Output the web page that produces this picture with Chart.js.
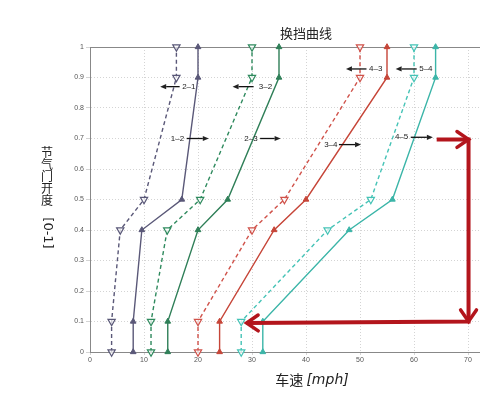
<!DOCTYPE html>
<html>
<head>
<meta charset="utf-8">
<script src="https://cdn.jsdelivr.net/npm/chart.js@4"></script>
<style>
html, body { margin: 0; padding: 0; background: #fff; overflow: hidden; }
canvas { display: block; }
</style>
</head>
<body>
<canvas id="myChart" width="540" height="397"></canvas>
<script>
// throttle opening levels (y) shared by every shift line
const throttle = [0, 0.1, 0.4, 0.5, 0.9, 1];

// vehicle speed [mph] at each throttle level
const up12   = [8, 8, 9.6, 17, 20, 20];
const down21 = [4, 4, 5.6, 10, 16, 16];
const up23   = [14.4, 14.4, 20, 25.5, 35, 35];
const down32 = [11.3, 11.3, 14.3, 20.4, 30, 30];
const up34   = [24, 24, 34.1, 40, 55, 55];
const down43 = [20, 20, 30, 36, 50, 50];
const up45   = [32, 32, 48, 56, 64, 64];
const down54 = [28, 28, 44, 52, 60, 60];

// small shift labels with arrows
const shiftLabels = ["1\u20132", "2\u20131", "2\u20133", "3\u20132", "3\u20134", "4\u20133", "4\u20135", "5\u20134"];
const labelX    = [16.2, 18.3, 29.8, 32.5, 44.6, 52.9, 57.7, 62.2];
const labelY    = [0.70, 0.87, 0.70, 0.87, 0.68, 0.928, 0.704, 0.928];
const arrowFrom = [17.9, 16.6, 31.5, 30.3, 46.1, 51.2, 59.4, 60.5];
const arrowTo   = [22, 13, 35.3, 26.4, 50.2, 47.4, 63.5, 56.6];

// big red arrow path
const redX = [64.2, 70.1, 70.1, 29];
const redY = [0.697, 0.697, 0.1, 0.095];

const xTicksMax = 80;

function mk(label, xs, color, down) {
  return {
    label: label,
    data: xs.map((v, i) => ({ x: v, y: throttle[i] })),
    borderColor: color,
    backgroundColor: down ? "rgba(255,255,255,0.7)" : color,
    borderWidth: 1.4,
    borderDash: down ? [4, 3] : [],
    pointStyle: "triangle",
    rotation: down ? 180 : 0,
    pointRadius: down ? 4.2 : 3.3,
    pointBorderWidth: down ? 1.2 : 1,
    pointBorderColor: color,
    pointBackgroundColor: down ? "rgba(255,255,255,0.7)" : color,
    tension: 0,
    clip: false,
  };
}

function arrowLine(ctx, x0, y0, x1, y1, len, wid) {
  const ang = Math.atan2(y1 - y0, x1 - x0);
  const bx = x1 - len * Math.cos(ang), by = y1 - len * Math.sin(ang);
  ctx.beginPath();
  ctx.moveTo(x0, y0);
  ctx.lineTo(bx, by);
  ctx.stroke();
  ctx.beginPath();
  ctx.moveTo(x1, y1);
  ctx.lineTo(bx + wid * Math.sin(ang), by - wid * Math.cos(ang));
  ctx.lineTo(bx - wid * Math.sin(ang), by + wid * Math.cos(ang));
  ctx.closePath();
  ctx.fill();
}

const overlay = {
  id: "overlay",
  beforeDatasetsDraw(chart) {
    const { ctx, chartArea: a, scales: { y } } = chart;
    // top box line
    ctx.save();
    ctx.strokeStyle = "#888";
    ctx.lineWidth = 1;
    ctx.beginPath();
    ctx.moveTo(a.left, Math.round(y.getPixelForValue(1)) + 0.5);
    ctx.lineTo(a.right, Math.round(y.getPixelForValue(1)) + 0.5);
    ctx.stroke();
    ctx.restore();
  },
  afterDatasetsDraw(chart) {
    const { ctx, scales: { x, y } } = chart;
    ctx.save();
    // shift labels
    ctx.font = '8px "Liberation Sans"';
    ctx.textAlign = "center";
    ctx.textBaseline = "middle";
    ctx.fillStyle = "#222";
    ctx.strokeStyle = "#111";
    ctx.lineWidth = 1.3;
    shiftLabels.forEach((t, i) => {
      const py = y.getPixelForValue(labelY[i]);
      ctx.fillText(t, x.getPixelForValue(labelX[i]), py);
      arrowLine(ctx, x.getPixelForValue(arrowFrom[i]), py, x.getPixelForValue(arrowTo[i]), py, 6, 2.6);
    });

    // red arrows
    ctx.strokeStyle = "#b3151c";
    ctx.lineWidth = 4;
    ctx.lineCap = "butt";
    ctx.lineJoin = "miter";
    const px = redX.map(v => x.getPixelForValue(v));
    const py = redY.map(v => y.getPixelForValue(v));
    ctx.beginPath();
    ctx.moveTo(px[0], py[0]);
    for (let i = 1; i < px.length; i++) ctx.lineTo(px[i], py[i]);
    ctx.stroke();
    ctx.lineWidth = 3.5;
    ctx.lineCap = "round";
    for (let i = 1; i < px.length; i++) {
      const ang = Math.atan2(py[i] - py[i - 1], px[i] - px[i - 1]);
      const L = 14, s = 0.6;
      ctx.beginPath();
      ctx.moveTo(px[i] - L * Math.cos(ang - s), py[i] - L * Math.sin(ang - s));
      ctx.lineTo(px[i], py[i]);
      ctx.lineTo(px[i] - L * Math.cos(ang + s), py[i] - L * Math.sin(ang + s));
      ctx.stroke();
    }
    ctx.restore();
  },
  afterDraw(chart) {
    const { ctx, chartArea: a } = chart;
    ctx.save();
    ctx.fillStyle = "#222";
    ctx.textAlign = "center";
    ctx.textBaseline = "middle";
    // title
    ctx.font = '13px "Noto Sans CJK SC"';
    ctx.fillText("换挡曲线", (a.left + a.right) / 2, 33);

    // x title
    const f1 = '14px "Noto Sans CJK SC"', f2 = 'italic 14px "DejaVu Sans"';
    ctx.font = f1;
    const w1 = ctx.measureText("车速 ").width;
    ctx.font = f2;
    const w2 = ctx.measureText("[mph]").width;
    let sx = 312 - (w1 + w2) / 2;
    ctx.textAlign = "left";
    ctx.font = f1;
    ctx.fillText("车速 ", sx, 380);
    ctx.font = f2;
    ctx.fillText("[mph]", sx + w1, 380);

    // y title: stacked characters then rotated bracket
    ctx.textAlign = "center";
    ctx.font = '12px "Noto Sans CJK SC"';
    const cx = a.left - 43;
    [..."节气门开度"].forEach((ch, i) => ctx.fillText(ch, cx, 152 + i * 12));
    ctx.translate(cx, 233);
    ctx.rotate(Math.PI / 2);
    ctx.font = '13px "DejaVu Sans"';
    ctx.fillText("[0-1]", 0, 0);
    ctx.restore();
  }
};

const tickFont = { family: "Liberation Sans", size: 7 };

new Chart(document.getElementById("myChart"), {
  type: "line",
  data: {
    datasets: [
      mk("2-1", down21, "#5a5878", true),
      mk("1-2", up12, "#5a5878", false),
      mk("3-2", down32, "#2f8a5e", true),
      mk("2-3", up23, "#2f7f58", false),
      mk("4-3", down43, "#d0524a", true),
      mk("3-4", up34, "#c64538", false),
      mk("5-4", down54, "#45c3b6", true),
      mk("4-5", up45, "#3bb5a8", false),
    ],
  },
  options: {
    responsive: false,
    animation: false,
    layout: { padding: { left: 70, top: 47, right: 18, bottom: 30 } },
    plugins: { legend: { display: false }, title: { display: false }, tooltip: { enabled: false } },
    scales: {
      x: {
        type: "linear",
        min: 0,
        max: xTicksMax,
        afterFit: s => { s.height = 15; },
        ticks: { stepSize: 10, font: tickFont, color: "#555", padding: 1, maxRotation: 0 },
        grid: { color: "#d4d4d4", tickLength: 3 },
        border: { color: "#888", dash: [1, 2] },
      },
      y: {
        min: 0,
        max: 1,
        afterFit: s => { s.width = 20; },
        ticks: {
          stepSize: 0.1,
          font: tickFont,
          color: "#555",
          padding: 2,
          callback: v => String(Number(v.toFixed(1))),
        },
        grid: { color: "#d4d4d4", tickLength: 4 },
        border: { color: "#888", dash: [1, 2] },
      },
    },
  },
  plugins: [overlay],
});
</script>
</body>
</html>
